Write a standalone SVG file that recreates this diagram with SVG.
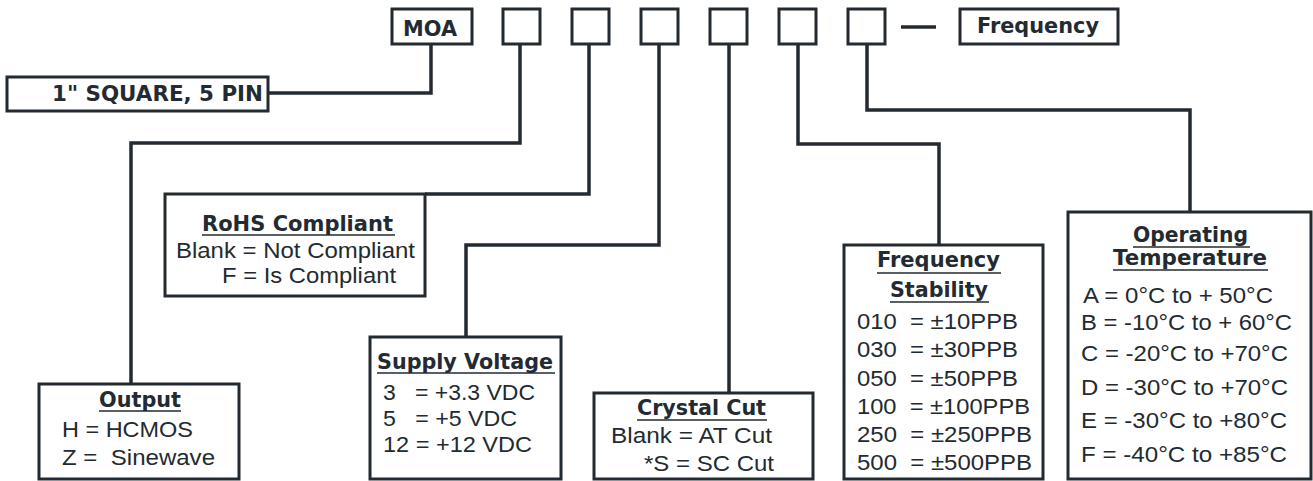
<svg xmlns="http://www.w3.org/2000/svg" width="1313" height="481" viewBox="0 0 1313 481">
<style>
.box{fill:#fff;stroke:#232a31;stroke-width:3}
.conn{fill:none;stroke:#232a31;stroke-width:3.5;stroke-linejoin:miter;stroke-linecap:butt}
.ul{stroke:#232a31;stroke-width:1.5}
.h{font-family:"DejaVu Sans",Verdana,sans-serif;font-weight:bold;font-size:21px;fill:#232a31}
.t{font-family:"DejaVu Sans",Verdana,sans-serif;font-weight:bold;font-size:22px;fill:#232a31}
.b{font-family:"Liberation Sans",Arial,sans-serif;font-size:22px;fill:#232a31}
</style>
<rect width="1313" height="481" fill="#fff"/>
<g id="connectors">
<path class="conn" d="M431,44 V93 H268"/>
<path class="conn" d="M520,44 V143 H131 V384"/>
<path class="conn" d="M589,44 V194 H425"/>
<path class="conn" d="M659,44 V245 H466 V337"/>
<path class="conn" d="M729,44 V393"/>
<path class="conn" d="M798,44 V144 H939 V245"/>
<path class="conn" d="M867,44 V110 H1190 V212"/>
</g>
<g id="moa"><rect class="box" x="392" y="9" width="80" height="35"/><text class="t" x="403" y="36" textLength="54" lengthAdjust="spacingAndGlyphs">MOA</text></g>
<g id="slot1"><rect class="box" x="503" y="9" width="37" height="35"/></g>
<g id="slot2"><rect class="box" x="572" y="9" width="37" height="35"/></g>
<g id="slot3"><rect class="box" x="641" y="9" width="37" height="35"/></g>
<g id="slot4"><rect class="box" x="710" y="9" width="37" height="35"/></g>
<g id="slot5"><rect class="box" x="779" y="9" width="37" height="35"/></g>
<g id="slot6"><rect class="box" x="848" y="9" width="37" height="35"/></g>
<g id="dash"><line class="conn" x1="901" y1="27" x2="936" y2="27"/></g>
<g id="frequency"><rect class="box" x="960" y="9" width="158" height="35"/><text class="t" x="977" y="33" textLength="122" lengthAdjust="spacingAndGlyphs">Frequency</text></g>
<g id="package"><rect class="box" x="7" y="77" width="261" height="34"/><text class="t" x="52" y="101" textLength="211" lengthAdjust="spacingAndGlyphs">1" SQUARE, 5 PIN</text></g>
<g id="output"><rect class="box" x="39" y="384" width="200" height="95"/>
<text class="h" x="99" y="407" textLength="82" lengthAdjust="spacingAndGlyphs">Output</text><line class="ul" x1="99" y1="411" x2="181" y2="411"/>
<text class="b" x="62" y="437" textLength="131" lengthAdjust="spacingAndGlyphs">H = HCMOS</text>
<text class="b" x="62" y="465" textLength="153" lengthAdjust="spacingAndGlyphs" xml:space="preserve">Z =  Sinewave</text></g>
<g id="rohs"><rect class="box" x="165" y="194" width="260" height="102"/>
<text class="h" x="202" y="231" textLength="191" lengthAdjust="spacingAndGlyphs">RoHS Compliant</text><line class="ul" x1="202" y1="235" x2="395" y2="235"/>
<text class="b" x="176" y="258" textLength="239" lengthAdjust="spacingAndGlyphs">Blank = Not Compliant</text>
<text class="b" x="222" y="283" textLength="174" lengthAdjust="spacingAndGlyphs">F = Is Compliant</text></g>
<g id="supply"><rect class="box" x="370" y="337" width="191" height="142"/>
<text class="h" x="377" y="369" textLength="176" lengthAdjust="spacingAndGlyphs">Supply Voltage</text><line class="ul" x1="377" y1="373" x2="555" y2="373"/>
<text class="b" x="383" y="400" textLength="152" lengthAdjust="spacingAndGlyphs" xml:space="preserve">3   = +3.3 VDC</text>
<text class="b" x="383" y="426" textLength="134" lengthAdjust="spacingAndGlyphs" xml:space="preserve">5   = +5 VDC</text>
<text class="b" x="383" y="452" textLength="149" lengthAdjust="spacingAndGlyphs">12 = +12 VDC</text></g>
<g id="crystal"><rect class="box" x="594" y="393" width="219" height="86"/>
<text class="h" x="637" y="415" textLength="129" lengthAdjust="spacingAndGlyphs">Crystal Cut</text><line class="ul" x1="637" y1="420" x2="767" y2="420"/>
<text class="b" x="611" y="443" textLength="161" lengthAdjust="spacingAndGlyphs">Blank = AT Cut</text>
<text class="b" x="644" y="471" textLength="130" lengthAdjust="spacingAndGlyphs">*S = SC Cut</text></g>
<g id="stability"><rect class="box" x="844" y="245" width="199" height="234"/>
<text class="h" x="877" y="267" textLength="123" lengthAdjust="spacingAndGlyphs">Frequency</text><line class="ul" x1="877" y1="273" x2="1001" y2="273"/>
<text class="h" x="890" y="297" textLength="98" lengthAdjust="spacingAndGlyphs">Stability</text><line class="ul" x1="890" y1="302" x2="989" y2="302"/>
<text class="b" x="857" y="329" textLength="161" lengthAdjust="spacingAndGlyphs" xml:space="preserve">010  = ±10PPB</text>
<text class="b" x="857" y="357" textLength="161" lengthAdjust="spacingAndGlyphs" xml:space="preserve">030  = ±30PPB</text>
<text class="b" x="857" y="386" textLength="161" lengthAdjust="spacingAndGlyphs" xml:space="preserve">050  = ±50PPB</text>
<text class="b" x="857" y="414" textLength="173" lengthAdjust="spacingAndGlyphs" xml:space="preserve">100  = ±100PPB</text>
<text class="b" x="857" y="442" textLength="175" lengthAdjust="spacingAndGlyphs" xml:space="preserve">250  = ±250PPB</text>
<text class="b" x="857" y="470" textLength="175" lengthAdjust="spacingAndGlyphs" xml:space="preserve">500  = ±500PPB</text></g>
<g id="temperature"><rect class="box" x="1068" y="212" width="243" height="267"/>
<text class="h" x="1133" y="242" textLength="115" lengthAdjust="spacingAndGlyphs">Operating</text><line class="ul" x1="1133" y1="247" x2="1250" y2="247"/>
<text class="h" x="1113" y="265" textLength="154" lengthAdjust="spacingAndGlyphs">Temperature</text><line class="ul" x1="1113" y1="270" x2="1268" y2="270"/>
<text class="b" x="1083" y="303" textLength="190" lengthAdjust="spacingAndGlyphs">A = 0°C to + 50°C</text>
<text class="b" x="1081" y="330" textLength="211" lengthAdjust="spacingAndGlyphs">B = -10°C to + 60°C</text>
<text class="b" x="1081" y="361" textLength="207" lengthAdjust="spacingAndGlyphs">C = -20°C to +70°C</text>
<text class="b" x="1081" y="395" textLength="207" lengthAdjust="spacingAndGlyphs">D = -30°C to +70°C</text>
<text class="b" x="1081" y="428" textLength="206" lengthAdjust="spacingAndGlyphs">E = -30°C to +80°C</text>
<text class="b" x="1081" y="462" textLength="206" lengthAdjust="spacingAndGlyphs">F = -40°C to +85°C</text></g>
</svg>
